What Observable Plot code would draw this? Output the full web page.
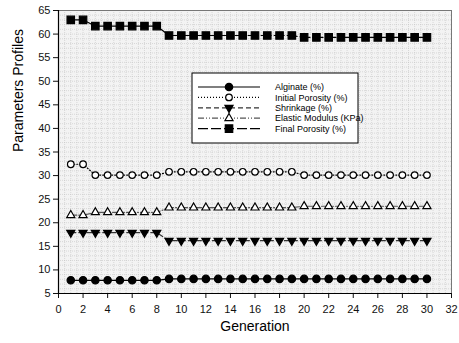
<!DOCTYPE html>
<html><head><meta charset="utf-8">
<script src="https://cdn.jsdelivr.net/npm/d3@7"></script>
<script src="https://cdn.jsdelivr.net/npm/@observablehq/plot@0.6"></script>
<style>body{margin:0;background:#fff;} svg{display:block;}</style>
</head><body><div id="chart"></div>
<script>
const generations = [1,2,3,4,5,6,7,8,9,10,11,12,13,14,15,16,17,18,19,20,21,22,23,24,25,26,27,28,29,30];
const alginate = [7.8,7.8,7.8,7.8,7.8,7.8,7.8,7.8,8.1,8.1,8.1,8.1,8.1,8.1,8.1,8.1,8.1,8.1,8.1,8.1,8.1,8.1,8.1,8.1,8.1,8.1,8.1,8.1,8.1,8.1];
const initialPorosity = [32.4,32.4,30.1,30.1,30.1,30.1,30.1,30.1,30.8,30.8,30.8,30.8,30.8,30.8,30.8,30.8,30.8,30.8,30.8,30.1,30.1,30.1,30.1,30.1,30.1,30.1,30.1,30.1,30.1,30.1];
const shrinkage = [17.9,17.9,17.9,17.9,17.9,17.9,17.9,17.9,16.2,16.2,16.2,16.2,16.2,16.2,16.2,16.2,16.2,16.2,16.2,16.2,16.2,16.2,16.2,16.2,16.2,16.2,16.2,16.2,16.2,16.2];
const elasticModulus = [21.6,21.6,22.2,22.2,22.2,22.2,22.2,22.2,23.2,23.2,23.2,23.2,23.2,23.2,23.2,23.2,23.2,23.2,23.2,23.5,23.5,23.5,23.5,23.5,23.5,23.5,23.5,23.5,23.5,23.5];
const finalPorosity = [63.0,63.0,61.7,61.7,61.7,61.7,61.7,61.7,59.7,59.7,59.7,59.7,59.7,59.7,59.7,59.7,59.7,59.7,59.7,59.3,59.3,59.3,59.3,59.3,59.3,59.3,59.3,59.3,59.3,59.3];
const seriesNames = ["Alginate (%)","Initial Porosity (%)","Shrinkage (%)","Elastic Modulus (KPa)","Final Porosity (%)"];
const xTicks = [0,2,4,6,8,10,12,14,16,18,20,22,24,26,28,30,32];
const yTicks = [5,10,15,20,25,30,35,40,45,50,55,60,65];
const xLabel = "Generation";
const yLabel = "Parameters Profiles";

const seriesValues = [alginate, initialPorosity, shrinkage, elasticModulus, finalPorosity];
const styles = [
  {symbol:"circle", fill:"#000", stroke:"#000", r:3.7, rotate:0, line:"#000", dash:null},
  {symbol:"circle", fill:"#fff", stroke:"#000", r:3.3, rotate:0, line:"#000", dash:"1,2"},
  {symbol:"triangle", fill:"#000", stroke:"#000", r:3.0, rotate:180, line:"#333", dash:"5,3"},
  {symbol:"triangle", fill:"#fff", stroke:"#000", r:3.0, rotate:0, line:"#555", dash:"6,2,1,2,1,2"},
  {symbol:"square", fill:"#000", stroke:"#000", r:4.2, rotate:0, line:"#000", dash:"10,3"}
];

const marks = [
  Plot.frame({fill:"#f3f3f3", stroke:null}),
  Plot.gridX(d3.range(0, 32.01, 0.5), {stroke:"#bdbdbd", strokeOpacity:0.5, strokeDasharray:"1,1"}),
  Plot.gridY(d3.range(5, 65.01, 1), {stroke:"#bdbdbd", strokeOpacity:0.5, strokeDasharray:"1,1"}),
  Plot.frame({stroke:"#777"}),
  Plot.axisX({ticks:xTicks, tickSize:5, tickPadding:7, label:null, fontSize:11}),
  Plot.axisY({ticks:yTicks, tickSize:5, tickPadding:3, label:null, fontSize:11}),
  Plot.ruleX([0], {stroke:"#000", strokeWidth:1.2}),
  Plot.ruleY([5], {stroke:"#000", strokeWidth:1.2}),
  Plot.text([xLabel], {frameAnchor:"bottom", dy:37, fontSize:14, fill:"#000"}),
  Plot.text([yLabel], {frameAnchor:"left", dx:-40, rotate:-90, fontSize:14, fill:"#000"})
];
seriesValues.forEach((vals, i) => {
  const s = styles[i];
  const data = generations.map((g, j) => ({g, v: vals[j]}));
  marks.push(Plot.line(data, {x:"g", y:"v", stroke:s.line, strokeWidth:1.2, strokeDasharray:s.dash}));
  marks.push(Plot.dot(data, {x:"g", y:"v", symbol:()=>s.symbol, r:s.r, fill:s.fill, stroke:s.stroke, strokeWidth:1.2, rotate:s.rotate}));
});

const chart = Plot.plot({
  width:459, height:343,
  marginLeft:58, marginRight:8, marginTop:10, marginBottom:50,
  x:{domain:[0,32]}, y:{domain:[5,65]},
  symbol:{type:"identity"},
  style:{fontFamily:"'Liberation Sans', Arial, sans-serif", fontSize:"11px", color:"#111", background:"#fff"},
  marks
});
document.getElementById("chart").appendChild(chart);

// legend box
const svg = d3.select(chart);
const lg = svg.append("g").attr("class","legend").attr("text-anchor","start");
lg.append("rect").attr("x",192).attr("y",73).attr("width",166).attr("height",70)
  .attr("fill","#fff").attr("stroke","#000").attr("stroke-width",1);
const symbolTypes = {circle:d3.symbolCircle, triangle:d3.symbolTriangle, square:d3.symbolSquare};
seriesNames.forEach((name, i) => {
  const s = styles[i];
  const y = 87 + i*10.4;
  lg.append("line").attr("x1",198).attr("x2",260).attr("y1",y).attr("y2",y)
    .attr("stroke", s.line).attr("stroke-width",1.2).attr("stroke-dasharray", s.dash);
  lg.append("path").attr("d", d3.symbol(symbolTypes[s.symbol], Math.PI*s.r*s.r)())
    .attr("transform", `translate(229,${y}) rotate(${s.rotate})`)
    .attr("fill", s.fill).attr("stroke", s.stroke).attr("stroke-width",1.2);
  lg.append("text").attr("x",275).attr("y",y).attr("dy","0.35em").attr("text-anchor","start")
    .attr("font-size",9).attr("fill","#000").text(name);
});
</script>
</body></html>
